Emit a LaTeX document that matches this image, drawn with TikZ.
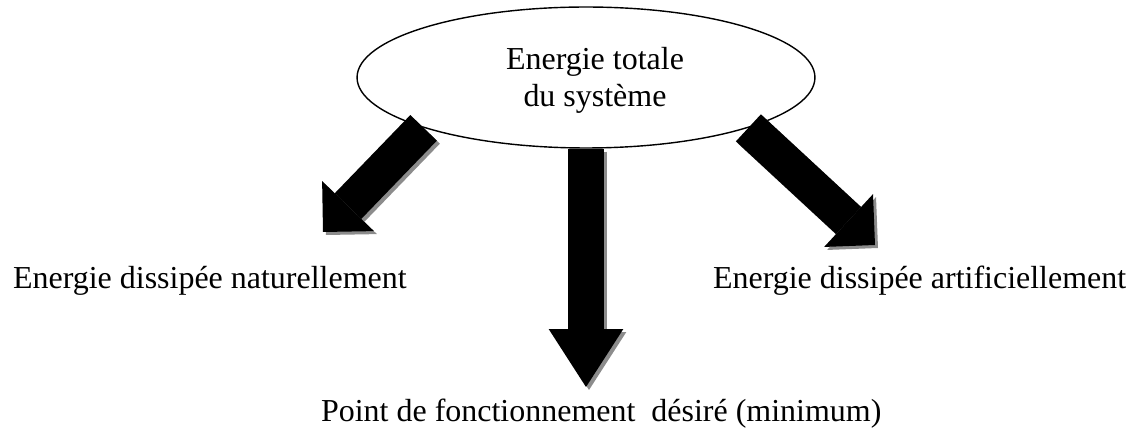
\documentclass[tikz,border=0pt]{standalone}
\usepackage{fontspec}
\setmainfont{Liberation Serif}
\usetikzlibrary{shapes.geometric,arrows.meta}

\tikzset{
    lbl/.style={inner sep=0pt, font=\fontsize{18.2}{21}\selectfont},
    fatarrow/.style={line width=21pt, -{Triangle[width=41pt, length=20.5pt, line width=0pt]}},
    longarrow/.style={line width=21pt, -{Triangle[width=42.5pt, length=33pt, line width=0pt]}},
    shadowcol/.style={draw=black!45, transform canvas={shift={(3,3)}}}
}

\begin{document}
\begin{tikzpicture}[x=0.02cm, y=-0.02cm]
    \useasboundingbox (0,0) rectangle (1144,435);

    % Ellipse du systeme
    \node[ellipse, draw, thick, minimum width=9.16cm, minimum height=2.82cm, inner sep=0pt] (sys) at (586,77.5) {};
    \node[lbl, align=center] (systxt) at (595,80) {Energie totale\\du système};

    % Pointes des fleches
    \coordinate (tipL) at (323,232);
    \coordinate (tipC) at (586,387);
    \coordinate (tipR) at (875,245);

    % Ombres
    \draw[fatarrow, shadowcol] (sys.south west) -- (tipL);
    \draw[longarrow, shadowcol] (sys.south) -- (tipC);
    \draw[fatarrow, shadowcol] (sys.south east) -- (tipR);

    % Fleches
    \draw[fatarrow] (sys.south west) -- (tipL);
    \draw[longarrow] (sys.south) -- (tipC);
    \draw[fatarrow] (sys.south east) -- (tipR);

    % Etiquettes
    \node[lbl, anchor=base west] (natL) at (12.7,289) {Energie dissipée naturellement};
    \node[lbl, anchor=base west] (artR) at (712.7,289) {Energie dissipée artificiellement};
    \node[lbl, anchor=base west] (ptC) at (320.7,422) {Point de fonctionnement\ \ désiré (minimum)};
\end{tikzpicture}
\end{document}
